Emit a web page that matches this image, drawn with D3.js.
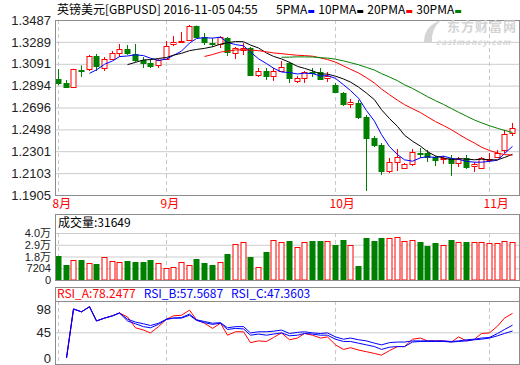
<!DOCTYPE html>
<html>
<head>
<meta charset="utf-8">
<script src="https://cdn.jsdelivr.net/npm/d3@7/dist/d3.min.js"></script>
<style>
body{margin:0;background:#fff;}
svg text{font-family:"Noto Sans CJK SC","Noto Sans",sans-serif;}
</style>
</head>
<body>
<div id="chart"></div>
<script>
// GBPUSD daily candles, mid Aug - 4 Nov 2016
const opens  = [1.2954,1.2918,1.2881,1.3035,1.3044,1.3162,1.3053,1.3134,1.3189,1.3225,
                1.3180,1.3125,1.3098,1.3080,1.3134,1.3270,1.3284,1.3306,1.3433,1.3333,
                1.3279,1.3270,1.3324,1.3189,1.3216,1.3234,1.2990,1.3026,1.2981,1.3026,
                1.3098,1.2936,1.2963,1.3017,1.3017,1.2963,1.2899,1.2827,1.2728,1.2737,
                1.2610,1.2420,1.2357,1.2122,1.2203,1.2149,1.2185,1.2285,1.2285,1.2249,
                1.2231,1.2240,1.2194,1.2240,1.2167,1.2149,1.2222,1.2249,1.2312,1.2466];
const highs  = [1.3044,1.2945,1.3046,1.3076,1.3171,1.3180,1.3152,1.3207,1.3270,1.3261,
                1.3270,1.3152,1.3134,1.3134,1.3297,1.3342,1.3379,1.3442,1.3437,1.3369,
                1.3324,1.3342,1.3333,1.3243,1.3279,1.3243,1.3053,1.3053,1.3053,1.3116,
                1.3107,1.2981,1.3026,1.3053,1.3053,1.3017,1.2918,1.2836,1.2773,1.2764,
                1.2628,1.2438,1.2375,1.2240,1.2321,1.2194,1.2321,1.2330,1.2312,1.2258,
                1.2258,1.2267,1.2249,1.2267,1.2203,1.2249,1.2285,1.2312,1.2493,1.2556];
const lows   = [1.2899,1.2872,1.2872,1.2972,1.3026,1.3026,1.3026,1.3125,1.3152,1.3171,
                1.3107,1.3053,1.3053,1.3053,1.3125,1.3252,1.3279,1.3297,1.3333,1.3261,
                1.3243,1.3234,1.3162,1.3134,1.3171,1.2985,1.2972,1.2945,1.2936,1.3017,
                1.2918,1.2918,1.2918,1.2972,1.2945,1.2927,1.2827,1.2710,1.2691,1.2592,
                1.1941,1.2339,1.2086,1.2104,1.2122,1.2140,1.2167,1.2240,1.2203,1.2167,
                1.2185,1.2077,1.2158,1.2140,1.2113,1.2140,1.2203,1.2240,1.2285,1.2438];
const closes = [1.2918,1.2881,1.3040,1.3026,1.3162,1.3071,1.3134,1.3189,1.3225,1.3189,
                1.3125,1.3098,1.3071,1.3125,1.3252,1.3288,1.3293,1.3433,1.3333,1.3288,
                1.3270,1.3333,1.3198,1.3234,1.3234,1.2990,1.3026,1.2981,1.3026,1.3062,
                1.2963,1.2963,1.3017,1.3008,1.2954,1.2981,1.2836,1.2728,1.2746,1.2610,
                1.2420,1.2357,1.2122,1.2203,1.2249,1.2185,1.2294,1.2276,1.2249,1.2222,
                1.2240,1.2194,1.2231,1.2158,1.2185,1.2240,1.2231,1.2285,1.2456,1.2511];
const volumes = [18735,10190,14784,14784,11752,11108,17540,13865,12671,13865,
                 12946,12946,14784,11752,7434,8352,12671,9914,15703,12303,
                 10190,12671,20297,29209,31047,17540,8077,22410,33160,31047,
                 32241,26453,31047,32241,32241,32241,28566,33160,28566,9271,
                 34998,32241,34998,34998,35641,32241,33160,31322,27647,30128,
                 28290,33160,31047,31047,31047,31047,30128,30128,32241,31649];
const rsiA = [null,0,86,81,90,65,70,74,79,72,
              53,49,44,55,68,74,75,84,67,61,
              52,61,40,46,46,27,30,29,36,44,
              32,35,43,40,35,37,23,15,18,14,
              11,8,5,13,20,20,33,35,30,30,
              30,28,37,30,33,43,44,56,70,78.2477];
const rsiB = [null,0,86,81,90,65,70,74,79,68,
              63,60,57,61,68,70,71,77,67,64,
              61,62,53,55,55,44,46,46,47,49,
              43,45,46,44,43,44,37,33,35,32,
              30,26,23,27,28,28,30,30,30,30,
              30,29,30,32,33,35,36,43,50,57.5687];
const rsiC = [null,0,86,81,90,65,70,74,79,65,
              60,55,53,59,68,70,70,75,66,62,
              59,61,50,52,51,40,42,40,42,44,
              39,40,43,42,40,40,33,29,29,26,
              23,20,15,19,20,20,28,29,29,29,
              29,28,29,30,32,33,35,39,43,47.3603];

const months = ["8月","9月","10月","11月"];
const monthStart = [0,14,36,56];
const priceTicks = [1.1905,1.2103,1.2301,1.2498,1.2696,1.2894,1.3091,1.3289,1.3487];
const volTicks = [-3592,7204,18000,28796,39592];
const volTickLabels = ["0","7204","1.8万","2.9万","4.0万"];
const rsiTicks = [0,45,98];
const maPeriods = [5,10,20,30];
const maNames = ["5PMA","10PMA","20PMA","30PMA"];
const maColors = ["#0000ff","#000000","#ff0000","#008000"];

const title = "英镑美元[GBPUSD] 2016-11-05 04:55";
const upColor = "#ff0000", downColor = "#008000";

const width = 520, height = 365;
const left = 55, right = 519;
const main = {top:20, bottom:195};
const vol = {top:214, plotTop:233, bottom:280};
const rsi = {top:287, plotTop:301, bottom:364};

const svg = d3.select("#chart").append("svg")
    .attr("width",width).attr("height",height);

const idx = d3.range(closes.length);
const x = d3.scaleBand().domain(idx).range([54,516]);
const cx = i => Math.round(x(i) + x.bandwidth()/2) + 0.5;

const y = d3.scaleLinear().domain([priceTicks[0],priceTicks[priceTicks.length-1]]).range([main.bottom,main.top]);
const yv = d3.scaleLinear().domain([volTicks[0],volTicks[volTicks.length-1]]).range([vol.bottom,vol.plotTop]);
const yr = d3.scaleLinear().domain([0,100]).range([358,rsi.plotTop]);

// grids + tick labels
function grid(scale, values, fmt, size){
  const g = svg.append("g").attr("transform",`translate(${left},0)`)
    .call(d3.axisLeft(scale).tickValues(values).tickFormat(fmt)
      .tickSize(-(right-left)).tickPadding(4));
  g.select(".domain").remove();
  g.selectAll("line").attr("stroke","#cccccc");
  g.selectAll("text").attr("fill","#222")
    .style("font-family","'Liberation Sans',Arial,'Noto Sans CJK SC',sans-serif")
    .style("font-size",size);
  return g;
}
grid(y, priceTicks, d3.format(".4f"), "13px");
grid(yv, volTicks, (d,i) => volTickLabels[i], "11px");
const rg = grid(yr, rsiTicks, d3.format("d"), "13px");
rg.selectAll(".tick").filter(d => d !== 45).select("line").remove();
rg.selectAll(".tick").filter(d => d === 98).select("text").attr("dy","0.9em");

// month separators
const panels = [[main.top,main.bottom],[vol.plotTop,vol.bottom],[rsi.plotTop,rsi.bottom]];
panels.forEach(([t,b]) => {
  svg.append("g").selectAll("line").data(monthStart).enter().append("line")
    .attr("x1",d => cx(d)).attr("x2",d => cx(d))
    .attr("y1",t).attr("y2",b)
    .attr("stroke","#c8c8c8").attr("stroke-dasharray","4,3");
});
svg.append("g").selectAll("text").data(months).enter().append("text")
  .attr("x",(d,i) => cx(monthStart[i]) - 6)
  .attr("y",208)
  .attr("fill","#ff0000").attr("font-size","12px")
  .text(d => d);

// candles
const up = i => closes[i] >= opens[i];
const candles = svg.append("g").selectAll("g").data(idx).enter().append("g");
candles.append("line")
  .attr("x1",cx).attr("x2",cx)
  .attr("y1",i => y(highs[i])).attr("y2",i => y(lows[i]))
  .attr("stroke",i => up(i) ? upColor : downColor);
candles.append("rect")
  .attr("x",i => cx(i) - 2.5).attr("width",5)
  .attr("y",i => Math.round(y(Math.max(opens[i],closes[i]))) + 0.5)
  .attr("height",i => Math.max(1, Math.round(Math.abs(y(opens[i]) - y(closes[i])))))
  .attr("fill",i => up(i) ? "#fff" : downColor)
  .attr("stroke",i => up(i) ? upColor : downColor);

// moving averages
maPeriods.forEach((n,k) => {
  const ma = idx.map(i => i < n-1 ? null : d3.mean(closes.slice(i-n+1,i+1)));
  svg.append("path")
    .attr("fill","none").attr("stroke",maColors[k]).attr("stroke-width",1)
    .attr("d",d3.line().defined(i => ma[i] != null).x(cx).y(i => y(ma[i]))(idx));
});

// volume bars
svg.append("g").selectAll("rect").data(idx).enter().append("rect")
  .attr("x",i => cx(i) - 2.5).attr("width",5)
  .attr("y",i => Math.round(yv(volumes[i])) + 0.5)
  .attr("height",i => yv(volTicks[0]) - Math.round(yv(volumes[i])) - 0.5)
  .attr("fill",i => up(i) ? "#fff" : downColor)
  .attr("stroke",i => up(i) ? upColor : downColor);

// RSI lines
[[rsiA,"#ff0000"],[rsiB,"#0000ff"],[rsiC,"#0000ff"]].forEach(([s,c]) => {
  svg.append("path")
    .attr("fill","none").attr("stroke",c).attr("stroke-width",1)
    .attr("d",d3.line().defined(i => s[i] != null).x(cx).y(i => yr(s[i]))(idx));
});

// frames
const frame = (t,b) => svg.append("rect")
  .attr("x",left+0.5).attr("y",t+0.5).attr("width",right-left).attr("height",b-t)
  .attr("fill","none").attr("stroke","#8c8c8c");
frame(main.top,main.bottom);
frame(vol.top,vol.bottom);
frame(rsi.top,rsi.bottom);
svg.append("line").attr("x1",left).attr("x2",right)
  .attr("y1",rsi.plotTop+0.5).attr("y2",rsi.plotTop+0.5).attr("stroke","#8c8c8c");

// watermark
const wm = svg.append("g").attr("fill","#d4d4d4");
wm.append("path").attr("d","M424,42 Q424,26 441,20 Q431,29 432,42 Z");
wm.append("text").attr("x",447).attr("y",31).attr("font-size","13px").attr("font-weight","bold")
  .attr("letter-spacing","1").text("东方财富网");
wm.append("text").attr("x",436).attr("y",45).attr("font-size","8px").attr("font-weight","bold")
  .attr("font-style","italic").attr("letter-spacing","1").text("eastmoney.com");

// titles
svg.append("text").attr("x",57).attr("y",14).attr("font-size","12px").attr("fill","#000").text(title);
let lx = 276;
maNames.forEach((name,k) => {
  const t = svg.append("text").attr("x",lx).attr("y",14).attr("font-size","12px").text(name);
  lx += t.node().getComputedTextLength() + 1;
  svg.append("rect").attr("x",lx).attr("y",10).attr("width",6).attr("height",3).attr("fill",maColors[k]);
  lx += 10;
});
svg.append("text").attr("x",58).attr("y",227).attr("font-size","12px")
  .text("成交量:" + volumes[volumes.length-1]);
let rx = 57;
[["RSI_A",rsiA,"#ff0000"],["RSI_B",rsiB,"#0000ff"],["RSI_C",rsiC,"#0000ff"]].forEach(([n,s,c]) => {
  const t = svg.append("text").attr("x",rx).attr("y",298).attr("font-size","12px").attr("fill",c)
    .text(n + ":" + s[s.length-1].toFixed(4));
  rx += t.node().getComputedTextLength() + 8;
});
</script>
</body>
</html>
